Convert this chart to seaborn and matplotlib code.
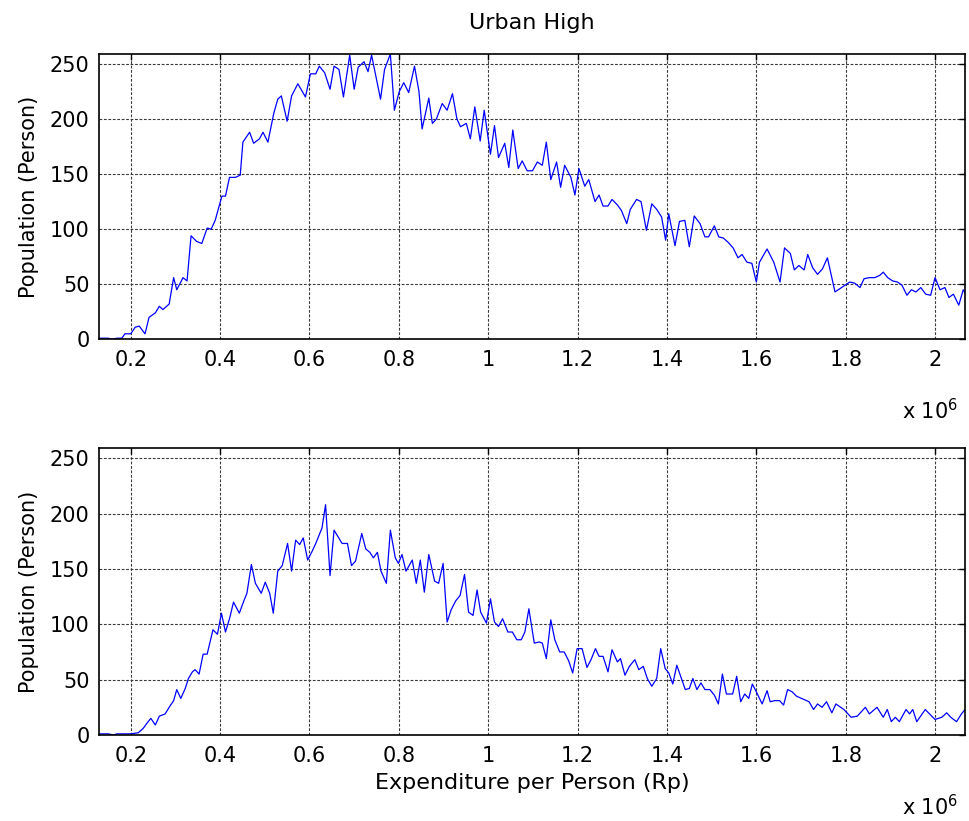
import numpy as np
import pandas as pd
import matplotlib
matplotlib.use("Agg")
import matplotlib.pyplot as plt
import seaborn as sns
from matplotlib.ticker import FixedLocator, FuncFormatter

# ---------------- data (expenditure in thousand Rp, population in persons) ----------------
top_x = [130, 139, 150, 157, 169, 180, 187, 200, 210, 219, 232, 241, 255, 264, 272, 286, 296, 303, 317, 326,
         335, 347, 359, 371, 380, 389, 404, 412, 421, 434, 445, 451, 466, 475, 488, 496, 507, 520, 529, 537,
         550, 560, 574, 591, 602, 614, 622, 634, 646, 655, 666, 676, 690, 700, 709, 722, 731, 739,
         759, 768, 781, 790, 801, 811, 822, 835, 845, 852, 867, 875, 884, 897, 908, 920, 930, 938, 951, 960,
         970, 982, 991, 1005, 1014, 1023, 1037, 1046, 1055, 1067, 1076, 1087, 1099, 1110, 1121, 1130, 1140,
         1153, 1162, 1171, 1185, 1194, 1203, 1216, 1225, 1239, 1248, 1257, 1268, 1277, 1289, 1298, 1310, 1318,
         1332, 1342, 1354, 1366, 1377, 1388, 1397, 1404, 1418, 1428, 1440, 1450,
         1461, 1474, 1485, 1493, 1506, 1516, 1526, 1537, 1548, 1559, 1568, 1579, 1590, 1600, 1607, 1624, 1639,
         1653, 1663, 1676, 1685, 1695, 1707, 1715, 1726, 1737, 1748, 1759, 1776, 1787, 1798, 1809, 1820, 1832,
         1841, 1853, 1865, 1876, 1884, 1894, 1905, 1916, 1926, 1937, 1947, 1957, 1968, 1979, 1990, 2000, 2011,
         2022, 2031, 2041, 2053, 2063, 2067]
top_y = [1, 1, 1, 0, 1, 1, 5, 5, 11, 12, 5, 20, 24, 30, 27, 32, 56, 45, 56, 53,
         94, 89, 87, 101, 100, 108, 130, 130, 147, 147, 149, 179, 188, 178, 182, 188, 179, 205, 218, 221,
         198, 221, 232, 220, 241, 241, 248, 242, 227, 248, 245, 220, 258, 227, 247, 252, 243, 258,
         218, 245, 259, 208, 225, 233, 224, 248, 225, 191, 219, 196, 200, 214, 208, 223, 200, 193, 196, 182,
         211, 180, 208, 168, 194, 165, 178, 156, 190, 155, 162, 153, 153, 161, 158, 179, 145,
         161, 138, 158, 147, 131, 155, 139, 145, 125, 131, 121, 121, 127, 122, 117, 105, 118,
         127, 125, 99, 123, 118, 111, 90, 114, 85, 107, 108, 84,
         112, 105, 93, 93, 103, 93, 92, 88, 83, 74, 77, 70, 69, 52, 70, 82, 70,
         52, 83, 78, 63, 67, 63, 77, 65, 59, 64, 74, 43, 46, 49, 52, 51, 47,
         55, 56, 56, 58, 61, 56, 53, 52, 49, 40, 45, 43, 47, 41, 40, 56, 45,
         47, 38, 41, 31, 45, 42]

bottom_x = [130, 150, 161, 169, 184, 200, 217, 228, 237, 245, 255, 264, 277, 286, 296, 303, 312, 322, 329, 338,
            344, 353, 362, 371, 384, 394, 403, 412, 421, 430, 443, 453, 460, 470, 479, 492, 501, 511, 519, 529,
            539, 551, 560, 569, 578, 586, 596, 606, 614, 628, 636, 646, 655, 664, 673, 685, 694, 703, 717, 726,
            735, 743, 752,
            760, 772, 781, 792, 799, 807, 816, 830, 839, 848, 857, 867, 880, 889, 899, 908, 917, 927, 937, 947,
            956, 966, 975, 983, 996, 1005, 1014, 1023, 1032, 1044, 1054, 1064, 1074, 1082, 1091, 1103, 1114, 1121,
            1130, 1140, 1149, 1160, 1170, 1180, 1189, 1199, 1210, 1221, 1230, 1240, 1248, 1257, 1268, 1277, 1289,
            1296, 1306, 1316, 1328, 1337, 1347, 1356, 1366, 1377, 1386, 1396, 1404, 1413, 1422,
            1441, 1450, 1458, 1467, 1476, 1485, 1496, 1506, 1515, 1524, 1533, 1547, 1556, 1565, 1574, 1583, 1591,
            1600, 1613, 1624, 1631, 1641, 1652, 1661, 1670, 1680, 1690, 1701, 1718, 1728, 1737, 1747, 1757, 1769,
            1778, 1796, 1812, 1826, 1844, 1853, 1870, 1884, 1893, 1902, 1911, 1920, 1935, 1943, 1950, 1959, 1978,
            1990, 2000, 2015, 2026, 2035, 2048, 2059, 2067]
bottom_y = [1, 1, 0, 1, 1, 1, 2, 6, 11, 15, 9, 17, 19, 25, 31, 41, 33, 42, 51, 57,
            59, 55, 73, 73, 95, 91, 110, 93, 105, 120, 110, 121, 128, 154, 137, 128, 138, 128, 110, 148,
            153, 173, 148, 176, 172, 178, 158, 166, 173, 187, 208, 144, 185, 179, 173, 173, 153, 157, 182, 168,
            165, 160, 165,
            148, 137, 185, 160, 155, 163, 148, 158, 137, 158, 129, 163, 139, 137, 155, 102, 113, 121, 126, 145,
            111, 108, 131, 111, 101, 123, 102, 98, 105, 93, 93, 86, 86, 93, 114, 83, 84, 83,
            69, 104, 86, 75, 75, 67, 56, 78, 78, 61, 68, 78, 71, 71, 57, 77, 66,
            69, 54, 62, 68, 59, 62, 51, 44, 51, 78, 60, 56, 46, 63,
            41, 42, 51, 41, 47, 41, 41, 36, 28, 55, 37, 37, 53, 30, 37, 33, 46,
            39, 28, 40, 30, 31, 31, 27, 41, 39, 35, 33, 30, 23, 28, 25, 30, 20,
            28, 23, 16, 17, 25, 19, 25, 16, 23, 12, 16, 12, 23, 19, 23, 12, 23,
            18, 14, 16, 20, 16, 12, 19, 23]

x_tick_values = [200000, 400000, 600000, 800000, 1000000, 1200000, 1400000, 1600000, 1800000, 2000000]
y_tick_values = [0, 50, 100, 150, 200, 250]

title_text = "Urban High"
y_label = "Population (Person)"
x_label = "Expenditure per Person (Rp)"
scale_text = r"x 10$^{6}$"

# ---------------- style ----------------
sns.set_theme(style="white")
plt.rcParams["font.family"] = ["DejaVu Sans"]
plt.rcParams["mathtext.fontset"] = "dejavusans"
for k in ["text.color", "axes.labelcolor", "xtick.color", "ytick.color", "axes.edgecolor"]:
    plt.rcParams[k] = "black"

fig = plt.figure(figsize=(9.69, 8.21), dpi=100)
ax1 = fig.add_axes([0.1025, 0.5867, 0.8934, 0.3475])
ax2 = fig.add_axes([0.1025, 0.1048, 0.8934, 0.3492])

for ax, xs, ys in [(ax1, top_x, top_y), (ax2, bottom_x, bottom_y)]:
    df = pd.DataFrame({"expenditure": np.array(xs) * 1000, "population": ys})
    sns.lineplot(data=df, x="expenditure", y="population", ax=ax, color="#0000ff",
                 linewidth=0.9, estimator=None, sort=False)
    ax.set_xlim(129700, 2067000)
    ax.set_ylim(0, 259)
    ax.xaxis.set_major_locator(FixedLocator(x_tick_values))
    ax.xaxis.set_major_formatter(FuncFormatter(lambda v, p: f"{v / 1e6:g}"))
    ax.yaxis.set_major_locator(FixedLocator(y_tick_values))
    ax.set_axisbelow(True)
    ax.grid(True, color="#3a3a3a", linestyle=(0, (2.5, 1.5)), linewidth=0.8)
    ax.tick_params(axis="both", direction="in", length=4, width=1, top=True, right=True,
                   labelsize=15, colors="black")
    ax.tick_params(axis="x", pad=8)
    ax.tick_params(axis="y", pad=7)
    for s in ax.spines.values():
        s.set_visible(True)
        s.set_color("black")
        s.set_linewidth(1.2)
    ax.set_ylabel(y_label, fontsize=15, labelpad=8)
    ax.set_xlabel("")
    ax.text(0.992, -0.279, scale_text, transform=ax.transAxes, ha="right", va="baseline", fontsize=15)

ax1.set_title(title_text, fontsize=16, pad=18)
ax2.set_xlabel(x_label, fontsize=16, labelpad=5)

fig.savefig("out.png", dpi=100, facecolor="white")
